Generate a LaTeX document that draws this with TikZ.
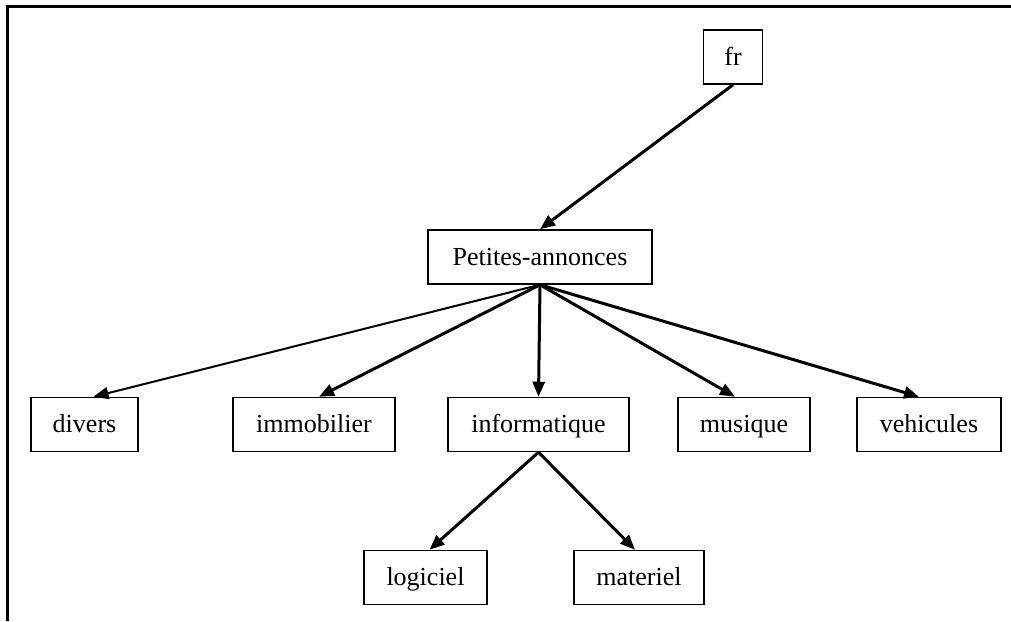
\documentclass[tikz,border=0pt]{standalone}
\usepackage{fontspec}
\setmainfont{Liberation Serif}
\usetikzlibrary{arrows.meta}

\begin{document}
\begin{tikzpicture}[x=1pt, y=-1pt,
        Link/.style  ={draw, line width=3pt, -{Triangle[length=15pt, width=12pt]}},
        ThinLink/.style ={Link, line width=2pt},
        Topic/.style ={draw=black, line width=1.5pt, rectangle, inner sep=0pt,
                       text height=20pt, text depth=4pt,
                       minimum height=54pt, font=\fontsize{26}{30}\selectfont},
    ]
\useasboundingbox (0,0) rectangle (1011,621);

% Frame
\draw[line width=3pt] (7,621) -- (7,6) -- (1011,6);

% Nodes
\node (fr)     [Topic, minimum width=59pt]  at (733,57)    {fr};
\node (pa)     [Topic, minimum width=224pt] at (540,257)   {Petites-annonces};

\node (divers) [Topic, minimum width=107pt] at (84.5,424.5) {divers};
\node (immo)   [Topic, minimum width=162pt] at (314,424.5)  {immobilier};
\node (info)   [Topic, minimum width=181pt] at (538.5,424.5){informatique};
\node (musique)[Topic, minimum width=132pt] at (744,424.5)  {musique};
\node (vehic)  [Topic, minimum width=144pt] at (929,424.5)  {vehicules};

\node (logi)   [Topic, minimum width=123pt] at (425.5,577.5){logiciel};
\node (mate)   [Topic, minimum width=130pt] at (639,577.5)  {materiel};

% Arrows
\draw[Link] (fr.south) -- (pa.north);
\draw[ThinLink] (pa.south) -- ([xshift=9pt]divers.north);
\draw[Link] (pa.south) -- ([xshift=5pt]immo.north);
\draw[Link] (pa.south) -- (info.north);
\draw[Link] (pa.south) -- ([xshift=-9pt]musique.north);
\draw[Link] (pa.south) -- ([xshift=-10pt]vehic.north);
\draw[Link] (info.south) -- ([xshift=4pt]logi.north);
\draw[Link] (info.south) -- ([xshift=-4pt]mate.north);

\end{tikzpicture}
\end{document}
